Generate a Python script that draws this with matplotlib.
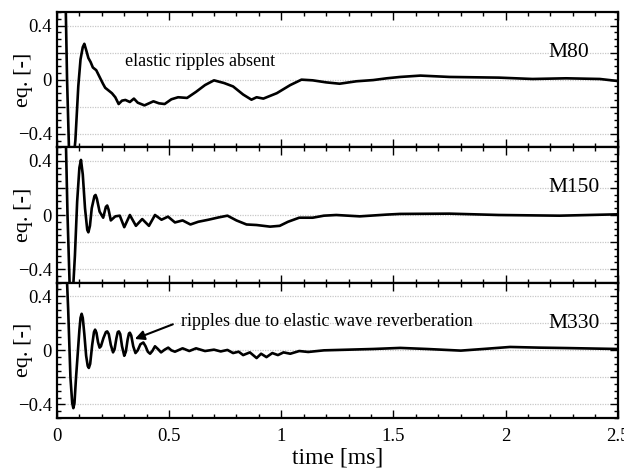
import matplotlib
matplotlib.use("Agg")
import matplotlib.pyplot as plt
from matplotlib.ticker import MultipleLocator, FuncFormatter

plt.rcParams["font.family"] = ["Liberation Serif", "DejaVu Serif"]

# M80 trace (time in ms, eq. [-])
t_m80 = [0.035, 0.045, 0.055, 0.07, 0.082, 0.095, 0.105, 0.115, 0.122, 0.13,
         0.14, 0.15, 0.16, 0.175, 0.19, 0.205, 0.215, 0.23, 0.245, 0.26,
         0.275, 0.29, 0.305, 0.325, 0.343, 0.36, 0.39, 0.41, 0.43, 0.455,
         0.48, 0.51, 0.54, 0.58, 0.62, 0.66, 0.70, 0.745, 0.785, 0.83,
         0.867, 0.89, 0.92, 0.98, 1.04, 1.09, 1.14, 1.20, 1.26, 1.335,
         1.41, 1.47, 1.53, 1.62, 1.75, 1.97, 2.12, 2.27, 2.42, 2.5]
y_m80 = [0.9, 0.0, -0.6, -0.65, -0.45, -0.05, 0.15, 0.24, 0.265, 0.22,
         0.16, 0.13, 0.09, 0.07, 0.02, -0.03, -0.06, -0.08, -0.1, -0.13,
         -0.18, -0.155, -0.15, -0.165, -0.14, -0.17, -0.19, -0.175, -0.16, -0.175,
         -0.18, -0.145, -0.13, -0.135, -0.09, -0.04, -0.005, -0.025, -0.05, -0.11,
         -0.148, -0.13, -0.14, -0.1, -0.04, 0.0, -0.005, -0.02, -0.03, -0.012,
         -0.003, 0.01, 0.02, 0.03, 0.02, 0.015, 0.005, 0.01, 0.005, -0.01]

# M150 trace
t_m150 = [0.035, 0.047, 0.058, 0.07, 0.08, 0.09, 0.1, 0.107, 0.115, 0.125,
          0.135, 0.14, 0.147, 0.155, 0.167, 0.172, 0.178, 0.19, 0.206, 0.218,
          0.224, 0.23, 0.24, 0.26, 0.28, 0.30, 0.325, 0.352, 0.38, 0.41,
          0.437, 0.466, 0.495, 0.526, 0.56, 0.595, 0.63, 0.675, 0.72, 0.76,
          0.80, 0.845, 0.89, 0.95, 0.993, 1.03, 1.08, 1.14, 1.19, 1.245,
          1.35, 1.47, 1.53, 1.75, 1.97, 2.24, 2.5]
y_m150 = [0.9, 0.0, -0.6, -0.6, -0.3, 0.1, 0.35, 0.407, 0.3, 0.05,
          -0.11, -0.128, -0.08, 0.05, 0.14, 0.148, 0.12, 0.025, -0.02, 0.06,
          0.07, 0.04, -0.04, -0.01, -0.005, -0.09, 0.0, -0.08, -0.03, -0.08,
          0.0, -0.035, -0.012, -0.055, -0.04, -0.07, -0.05, -0.035, -0.018, -0.005,
          -0.04, -0.07, -0.074, -0.086, -0.08, -0.05, -0.02, -0.02, -0.005, 0.0,
          -0.01, 0.003, 0.008, 0.01, 0.0, -0.005, 0.005]

# M330 trace
t_m330 = [0.035, 0.05, 0.06, 0.068, 0.073, 0.078, 0.085, 0.1, 0.105, 0.11,
          0.115, 0.122, 0.13, 0.137, 0.142, 0.148, 0.157, 0.165, 0.17, 0.176,
          0.183, 0.19, 0.196, 0.207, 0.218, 0.224, 0.231, 0.24, 0.25, 0.257,
          0.265, 0.271, 0.276, 0.282, 0.29, 0.30, 0.307, 0.315, 0.321, 0.325,
          0.331, 0.34, 0.35, 0.36, 0.372, 0.385, 0.395, 0.405, 0.415, 0.425,
          0.437, 0.45, 0.464, 0.48, 0.496, 0.51, 0.526, 0.56, 0.59, 0.62,
          0.66, 0.70, 0.73, 0.76, 0.785, 0.81, 0.83, 0.86, 0.89, 0.91,
          0.934, 0.96, 0.985, 1.01, 1.04, 1.08, 1.12, 1.19, 1.3, 1.41,
          1.53, 1.65, 1.8, 1.9, 2.02, 2.15, 2.27, 2.5]
y_m330 = [0.9, 0.3, -0.2, -0.39, -0.427, -0.39, -0.2, 0.15, 0.24, 0.27,
          0.24, 0.12, -0.04, -0.115, -0.13, -0.1, 0.04, 0.135, 0.153, 0.13,
          0.06, 0.02, 0.03, 0.09, 0.135, 0.14, 0.12, 0.04, -0.015, 0.01,
          0.09, 0.135, 0.14, 0.12, 0.03, -0.04, -0.01, 0.08, 0.125, 0.13,
          0.11, 0.03, -0.02, 0.0, 0.045, 0.058, 0.03, -0.01, -0.025, -0.005,
          0.03, 0.01, -0.015, 0.005, 0.02, 0.0, -0.01, 0.015, -0.005, 0.015,
          -0.005, 0.005, -0.008, 0.003, -0.02, -0.01, -0.035, -0.015, -0.057, -0.025,
          -0.05, -0.02, -0.035, -0.015, -0.025, -0.005, -0.012, 0.0, 0.005, 0.01,
          0.018, 0.01, -0.002, 0.01, 0.025, 0.02, 0.017, 0.01]

labels = ["M80", "M150", "M330"]
series = [(t_m80, y_m80), (t_m150, y_m150), (t_m330, y_m330)]

fig, axes = plt.subplots(3, 1, figsize=(6.24, 4.70), dpi=100, sharex=True)
fig.subplots_adjust(left=0.0913, right=0.990, top=0.9745, bottom=0.1106, hspace=0)

for ax, (t, y), name in zip(axes, series, labels):
    ax.plot(t, y, color="black", linewidth=1.9)
    ax.set_xlim(0, 2.5)
    ax.set_ylim(-0.5, 0.5)
    ax.set_yticks([-0.4, -0.2, 0, 0.2, 0.4])
    ax.set_yticklabels(["\u22120.4", "", "0", "", "0.4"])
    ax.yaxis.set_minor_locator(MultipleLocator(0.05))
    ax.xaxis.set_major_locator(MultipleLocator(0.5))
    ax.xaxis.set_minor_locator(MultipleLocator(0.1))
    ax.grid(axis="y", which="major", color="#c8c8c8", linestyle=(0, (1, 1)), linewidth=0.9)
    ax.tick_params(which="both", direction="in", top=True, right=True, labelsize=13.5,
                   width=1.0)
    ax.tick_params(which="major", length=6)
    ax.tick_params(which="minor", length=3)
    ax.tick_params(axis="x", pad=7)
    for s in ax.spines.values():
        s.set_linewidth(1.6)
    ax.set_ylabel("eq. [-]", fontsize=16)
    ax.yaxis.set_label_coords(-0.043, 0.5)
    ax.text(2.19, 0.2, name, fontsize=15.5, ha="left", va="center")

axes[2].xaxis.set_major_formatter(FuncFormatter(lambda v, p: "%g" % v))
axes[2].set_xlabel("time [ms]", fontsize=17, labelpad=2)

axes[0].text(0.303, 0.133, "elastic ripples absent", fontsize=13, ha="left", va="center")
axes[2].annotate("ripples due to elastic wave reverberation", xy=(0.347, 0.084),
                 xytext=(0.552, 0.215), fontsize=13, ha="left", va="center",
                 arrowprops=dict(arrowstyle="-|>", color="black", lw=1.5,
                                 mutation_scale=14, shrinkA=4, shrinkB=0,
                                 relpos=(0, 0.5)))

fig.savefig("out.png", dpi=100)
